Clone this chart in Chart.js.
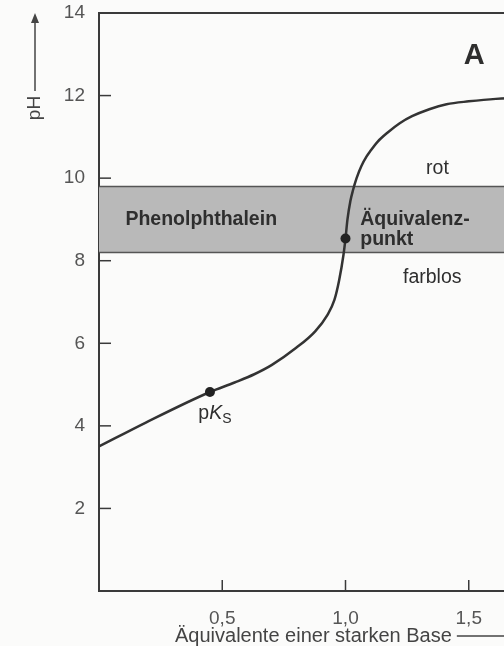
<!DOCTYPE html>
<html>
<head>
<meta charset="utf-8">
<script src="https://cdn.jsdelivr.net/npm/chart.js@4"></script>
<style>
  html, body { margin: 0; padding: 0; background: #fbfbfa; overflow: hidden; }
  #wrap { width: 504px; height: 646px; overflow: hidden; }
</style>
</head>
<body>
<div id="wrap"><canvas id="chart" width="600" height="646"></canvas></div>
<script>
// Titrationskurve
const baseEq = [0, 0.19, 0.45, 0.55, 0.63, 0.70, 0.80, 0.877, 0.927, 0.955, 0.974, 0.992, 1.0, 1.008, 1.02, 1.03, 1.045, 1.065, 1.085, 1.10, 1.13, 1.17, 1.22, 1.27, 1.34, 1.41, 1.5, 1.61, 2.0];
const phValues = [3.5, 4.08, 4.82, 5.05, 5.25, 5.47, 5.89, 6.29, 6.69, 7.05, 7.52, 8.15, 8.54, 9.0, 9.45, 9.7, 10.0, 10.3, 10.52, 10.65, 10.88, 11.1, 11.33, 11.5, 11.67, 11.79, 11.86, 11.92, 12.0];

// markierte Punkte: pKs und Äquivalenzpunkt
const markerX = [0.45, 1.0];
const markerPh = [4.82, 8.54];

// Umschlagbereich Phenolphthalein
const bandLow = 8.2;
const bandHigh = 9.8;

// Achsen
const xTickLabels = { 0.5: '0,5', 1: '1,0', 1.5: '1,5' };
const yTickValues = [2, 4, 6, 8, 10, 12, 14];

const ink = '#3a3a3a';
const font = '"Liberation Sans", Arial, sans-serif';

const decoPlugin = {
  id: 'deco',
  afterDraw(chart) {
    const ctx = chart.ctx;
    const xs = chart.scales.x, ys = chart.scales.y;
    const area = chart.chartArea;
    ctx.save();
    ctx.strokeStyle = ink;
    ctx.lineWidth = 2;
    // obere Rahmenlinie
    ctx.beginPath();
    ctx.moveTo(area.left, area.top);
    ctx.lineTo(area.right, area.top);
    ctx.stroke();
    // Striche nach innen
    ctx.lineWidth = 1.5;
    yTickValues.forEach(v => {
      if (v >= 14) return;
      const y = ys.getPixelForValue(v);
      ctx.beginPath();
      ctx.moveTo(area.left, y);
      ctx.lineTo(area.left + 12, y);
      ctx.stroke();
    });
    Object.keys(xTickLabels).forEach(k => {
      const x = xs.getPixelForValue(Number(k));
      ctx.beginPath();
      ctx.moveTo(x, area.bottom);
      ctx.lineTo(x, area.bottom - 11);
      ctx.stroke();
    });

    // Beschriftungen im Diagramm
    ctx.fillStyle = '#2e2e2e';
    ctx.textBaseline = 'middle';
    ctx.textAlign = 'left';
    ctx.font = 'bold 19.5px ' + font;
    ctx.fillText('Phenolphthalein', xs.getPixelForValue(0.107), ys.getPixelForValue(9.0));
    ctx.fillText('Äquivalenz-', xs.getPixelForValue(1.06), ys.getPixelForValue(9.0));
    ctx.fillText('punkt', xs.getPixelForValue(1.06), ys.getPixelForValue(8.5));
    ctx.textAlign = 'center';
    ctx.font = '19.5px ' + font;
    ctx.fillText('rot', xs.getPixelForValue(1.373), ys.getPixelForValue(10.22));
    ctx.fillText('farblos', xs.getPixelForValue(1.352), ys.getPixelForValue(7.6));
    ctx.font = 'bold 29px ' + font;
    ctx.fillText('A', xs.getPixelForValue(1.522), ys.getPixelForValue(12.95));

    // pKs
    ctx.textAlign = 'left';
    let px = xs.getPixelForValue(0.403), py = ys.getPixelForValue(4.3);
    ctx.font = '19.5px ' + font;
    ctx.fillText('p', px, py);
    px += ctx.measureText('p').width;
    ctx.font = 'italic 19.5px ' + font;
    ctx.fillText('K', px, py);
    px += ctx.measureText('K').width;
    ctx.font = '14px ' + font;
    ctx.fillText('S', px, py + 6);

    // Achsentitel y mit Pfeil
    ctx.fillStyle = '#444';
    ctx.strokeStyle = '#444';
    ctx.lineWidth = 1.5;
    ctx.save();
    ctx.translate(35, 108);
    ctx.rotate(-Math.PI / 2);
    ctx.textAlign = 'center';
    ctx.font = '19px ' + font;
    ctx.fillText('pH', 0, 0);
    ctx.restore();
    ctx.beginPath();
    ctx.moveTo(35, 91);
    ctx.lineTo(35, 20);
    ctx.stroke();
    ctx.beginPath();
    ctx.moveTo(35, 13);
    ctx.lineTo(31, 23);
    ctx.lineTo(39, 23);
    ctx.closePath();
    ctx.fill();

    // Achsentitel x mit Pfeil
    ctx.textAlign = 'left';
    ctx.font = '20px ' + font;
    ctx.fillText('Äquivalente einer starken Base', 175, 636);
    const tx = 175 + ctx.measureText('Äquivalente einer starken Base').width + 5;
    ctx.beginPath();
    ctx.moveTo(tx, 636);
    ctx.lineTo(515, 636);
    ctx.stroke();
    ctx.restore();
  }
};

const curve = baseEq.map((x, i) => ({ x: x, y: phValues[i] }));
const markers = markerX.map((x, i) => ({ x: x, y: markerPh[i] }));

new Chart(document.getElementById('chart').getContext('2d'), {
  type: 'scatter',
  data: {
    datasets: [
      {
        data: [{ x: 0, y: bandHigh }, { x: 2, y: bandHigh }],
        showLine: true, borderColor: '#555', borderWidth: 1.5, pointRadius: 0, order: 3
      },
      {
        data: [{ x: 0, y: bandLow }, { x: 2, y: bandLow }],
        showLine: true, borderColor: '#555', borderWidth: 1.5, pointRadius: 0,
        fill: '-1', backgroundColor: '#b9b9b9', order: 3
      },
      {
        data: curve,
        showLine: true, borderColor: '#333', borderWidth: 2.5, pointRadius: 0,
        cubicInterpolationMode: 'monotone', order: 1
      },
      {
        data: markers,
        pointRadius: 5, pointBackgroundColor: '#222', pointBorderWidth: 0, order: 0
      }
    ]
  },
  options: {
    responsive: false,
    animation: false,
    layout: { padding: { top: 1, right: 8, left: 0, bottom: 0 } },
    plugins: { legend: { display: false }, tooltip: { enabled: false } },
    scales: {
      x: {
        type: 'linear', min: 0, max: 2,
        afterFit: s => { s.height = 55; },
        afterBuildTicks: s => { s.ticks = Object.keys(xTickLabels).map(k => ({ value: Number(k) })); },
        grid: { display: false },
        border: { color: ink, width: 2 },
        ticks: {
          padding: 8, color: '#555', font: { size: 19, family: font },
          callback: v => xTickLabels[v] || ''
        }
      },
      y: {
        type: 'linear', min: 0, max: 14,
        afterFit: s => { s.width = 99; s.paddingTop = 13; },
        afterBuildTicks: s => { s.ticks = yTickValues.map(v => ({ value: v })); },
        grid: { display: false },
        border: { color: ink, width: 2 },
        ticks: { padding: 6, color: '#555', font: { size: 19, family: font, lineHeight: 1.0 } }
      }
    }
  },
  plugins: [decoPlugin]
});
</script>
</body>
</html>
